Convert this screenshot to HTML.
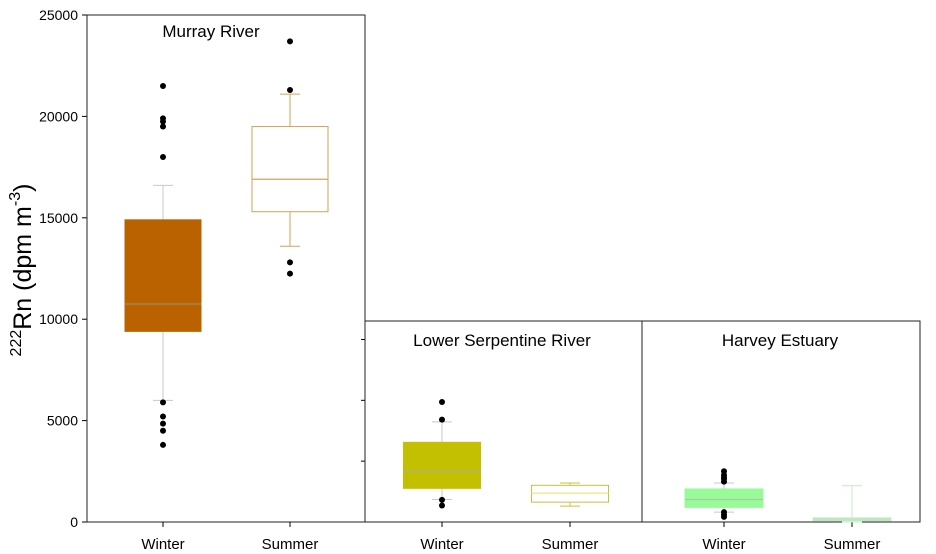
<!DOCTYPE html>
<html><head><meta charset="utf-8"><style>
body{margin:0;background:#fff;}
svg{display:block;font-family:"Liberation Sans",Arial,sans-serif;}
</style></head><body>
<svg id="chart" width="936" height="554" viewBox="0 0 936 554">
<g id="ax"></g>
<g id="marks"></g>
<text transform="translate(31,270) rotate(-90)" text-anchor="middle" font-size="25" fill="#000"><tspan font-size="16" dy="-10">222</tspan><tspan dy="10">Rn (dpm m</tspan><tspan font-size="16" dy="-11">-3</tspan><tspan dy="11">)</tspan></text>
</svg>
<script>
const yTicks=[0,5000,10000,15000,20000,25000];
const panelNames=["Murray River","Lower Serpentine River","Harvey Estuary"];
const seasons=["Winter","Summer"];
// [whiskerLow, q1, median, q3, whiskerHigh]
const murrayWinter=[6000,9400,10750,14900,16600];
const murraySummer=[13600,15300,16900,19500,21100];
const serpWinter=[1110,1660,2500,3930,4940];
const serpSummer=[780,980,1420,1810,1920];
const harveyWinter=[490,720,1110,1630,1920];
const harveySummer=[0,65,120,200,1790];
const murrayWinterOut=[21500,19900,19750,19500,18000,5900,5200,4850,4500,3800];
const murraySummerOut=[23700,21300,12800,12250];
const serpWinterOut=[5920,5050,1090,815];
const serpSummerOut=[];
const harveyWinterOut=[2500,2320,2200,2120,1990,490,360,250];
const harveySummerOut=[];

const NS="http://www.w3.org/2000/svg";
const y0=522,yTop=15,yMax=25000;
function yS(v){return y0-(v/yMax)*(y0-yTop);}
function mk(tag,at,parent){const e=document.createElementNS(NS,tag);for(const k in at)e.setAttribute(k,at[k]);parent.appendChild(e);return e;}
const ax=document.getElementById('ax'),marks=document.getElementById('marks');

const panels=[
 {x0:87,x1:365,top:yS(25000),title:panelNames[0],tx:211,ty:37,cx:[163,290],w:76,
  data:[murrayWinter,murraySummer],outs:[murrayWinterOut,murraySummerOut],
  fill:["#BA6200","#fff"],stroke:["#BA6200","#D6A256"],med:["#9a8a70","#D6A256"],wh:["#c8c8c8","#D6A256"]},
 {x0:365,x1:642,top:321,title:panelNames[1],tx:502,ty:346,cx:[442,570],w:77,
  data:[serpWinter,serpSummer],outs:[serpWinterOut,serpSummerOut],
  fill:["#C2C000","#fff"],stroke:["#C2C000","#C8C040"],med:["#b8b080","#EEE890"],wh:["#c8c8c8","#C8C040"]},
 {x0:642,x1:920,top:321,title:panelNames[2],tx:780,ty:346,cx:[724,852],w:78,
  data:[harveyWinter,harveySummer],outs:[harveyWinterOut,harveySummerOut],
  fill:["#98FB98","#C0E8C0"],stroke:["#98FB98","#C0E8C0"],med:["#a8c8a8","#C0E8C0"],wh:["#c8c8c8","#C0EEC0"]}
];

yTicks.forEach(t=>{
  let tk=mk('line',{x1:82,x2:87,y1:yS(t),y2:yS(t),stroke:'#000'},ax);
  
  
  let lb=mk('text',{x:78,y:yS(t)+5,'text-anchor':'end','font-size':14},ax);
  lb.textContent=t;
  
  
});
[3000,6000,9000].forEach(t=>{
  let tk=mk('line',{x1:361,x2:365,y1:yS(t),y2:yS(t),stroke:'#000'},ax);
  
  
});

panels.forEach((p,pi)=>{
  let fr=mk('rect',{x:p.x0,y:p.top,width:p.x1-p.x0,height:y0-p.top,fill:'none',stroke:'#222','stroke-width':1},ax);
  
  
  let tt=mk('text',{x:p.tx,y:p.ty,'text-anchor':'middle','font-size':17},ax);
  tt.textContent=p.title;
  
  
  p.data.forEach((d,i)=>{
    const cx=p.cx[i],w=p.w,g=mk('g',{},marks);
    
    
    mk('line',{x1:cx,x2:cx,y1:yS(d[0]),y2:yS(d[1]),stroke:p.wh[i]},g);
    mk('line',{x1:cx,x2:cx,y1:yS(d[3]),y2:yS(d[4]),stroke:p.wh[i]},g);
    mk('line',{x1:cx-10,x2:cx+10,y1:yS(d[0]),y2:yS(d[0]),stroke:p.wh[i]},g);
    mk('line',{x1:cx-10,x2:cx+10,y1:yS(d[4]),y2:yS(d[4]),stroke:p.wh[i]},g);
    mk('rect',{x:cx-w/2,y:yS(d[3]),width:w,height:Math.max(1,yS(d[1])-yS(d[3])),fill:p.fill[i],stroke:p.stroke[i]},g);
    mk('line',{x1:cx-w/2,x2:cx+w/2,y1:yS(d[2]),y2:yS(d[2]),stroke:p.med[i],'stroke-width':1.3},g);
    p.outs[i].forEach(v=>{
      let c=mk('circle',{cx:cx,cy:yS(v),r:3,fill:'#000'},g);
      
      
    });
    let tk=mk('line',{x1:cx,x2:cx,y1:y0,y2:y0+5,stroke:'#000'},ax);
    
    
    let lb=mk('text',{x:cx,y:549,'text-anchor':'middle','font-size':15},ax);
    lb.textContent=seasons[i];
    
    
  });
});
</script>
</body></html>
